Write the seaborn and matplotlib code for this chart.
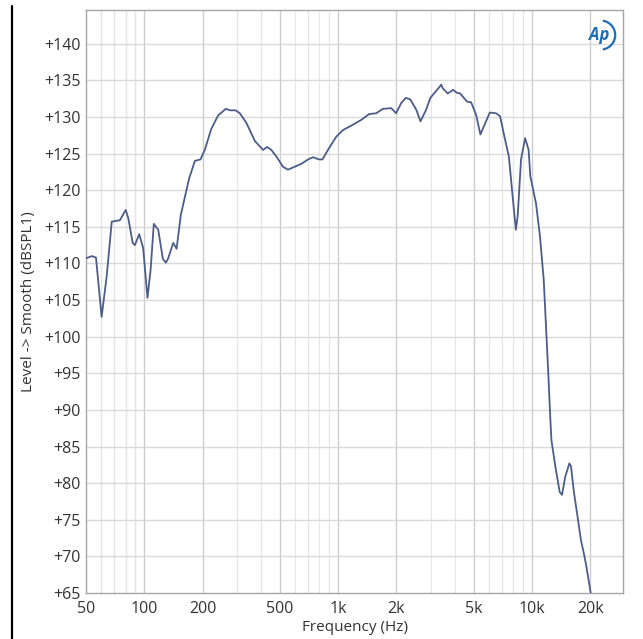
import numpy as np
import pandas as pd
import matplotlib
matplotlib.use("Agg")
import matplotlib.pyplot as plt
from matplotlib.lines import Line2D
from matplotlib.patches import Arc
from matplotlib.ticker import FixedLocator, NullFormatter
import seaborn as sns

# Smoothed SPL response of the driver
freq_hz = [
    50, 53.5, 56.3, 60.2, 63.9, 67.9, 74.8, 80.1, 82.6, 87.1, 89.4, 94.1, 98.6,
    103.8, 107.7, 111.9, 117.9, 124.7, 129.2, 132.8, 140.9, 146.7, 154.2, 165.2,
    170.3, 182.3, 194.9, 205.2, 221, 240.2, 263, 278, 296, 311, 336, 372, 410,
    430, 452, 480, 519, 551, 597, 646, 700, 741, 796, 830, 886, 978, 1058, 1185,
    1316, 1448, 1572, 1700, 1880, 1990, 2116, 2233, 2355, 2528, 2660, 2846, 2990,
    3407, 3466, 3678, 3916, 4093, 4262, 4620, 4854, 5150, 5420, 5752, 6060, 6530,
    6847, 7170, 7600, 7920, 8260, 8437, 8785, 9220, 9612, 9810, 10495, 11000,
    11500, 11820, 12140, 12430, 12600, 13200, 13900, 14290, 14860, 15600, 15900,
    16500, 17200, 17900, 18600, 19100, 20100, 20400,
]
level_db = [
    110.7, 111.0, 110.8, 102.7, 108.2, 115.7, 115.9, 117.3, 116.2, 112.8, 112.5,
    114.0, 112.1, 105.3, 109.1, 115.4, 114.6, 110.6, 110.1, 110.7, 112.8, 112.0,
    116.6, 120.1, 121.6, 124.0, 124.2, 125.5, 128.3, 130.2, 131.1, 130.9, 130.9,
    130.5, 129.2, 126.7, 125.5, 125.9, 125.5, 124.6, 123.2, 122.8, 123.2, 123.6,
    124.2, 124.5, 124.2, 124.2, 125.5, 127.3, 128.2, 128.9, 129.6, 130.4, 130.5,
    131.1, 131.2, 130.5, 131.9, 132.6, 132.4, 131.0, 129.4, 131.0, 132.6, 134.4,
    133.9, 133.2, 133.7, 133.3, 133.2, 132.1, 132.0, 130.3, 127.6, 129.2, 130.6,
    130.5, 130.1, 127.6, 124.6, 119.6, 114.6, 116.4, 124.2, 127.1, 125.5, 121.9,
    118.2, 113.7, 107.8, 101.4, 95.0, 89.0, 85.9, 82.3, 78.8, 78.4, 80.9, 82.7,
    82.3, 78.6, 75.4, 72.2, 70.2, 68.6, 65.0, 64.4,
]

x_ticks = [50, 100, 200, 500, 1000, 2000, 5000, 10000, 20000]
x_tick_labels = ["50", "100", "200", "500", "1k", "2k", "5k", "10k", "20k"]
y_ticks = list(range(65, 145, 5))
y_tick_labels = [f"+{v}" for v in y_ticks]

df = pd.DataFrame({"Frequency (Hz)": freq_hz, "Level": level_db})

sns.set_theme(style="white")
plt.rcParams["font.family"] = ["Open Sans", "DejaVu Sans"]

fig = plt.figure(figsize=(6.43, 6.39), dpi=100)
ax = fig.add_axes([86 / 643, 1 - 593 / 639, (623 - 86) / 643, (593 - 10) / 639])

# light minor grid at 3,4,6,7,8,9 of every decade, darker at labelled values
minor = []
for dec in [10, 100, 1000, 10000]:
    for m in [3, 4, 6, 7, 8, 9]:
        v = m * dec
        if 50 < v < 29500:
            minor.append(v)
minor += [60, 70, 80, 90]
for v in minor:
    ax.axvline(v, color="#e6e6e6", lw=0.9, zorder=0)
for v in x_ticks[1:]:
    ax.axvline(v, color="#cccccc", lw=1.0, zorder=0)
for v in y_ticks[1:]:
    ax.axhline(v, color="#d9d9d9", lw=1.0, zorder=0)

sns.lineplot(data=df, x="Frequency (Hz)", y="Level", ax=ax, sort=False,
             estimator=None, color="#4d5d8a", lw=1.3, zorder=3)

ax.set_xscale("log")
ax.set_xlim(50, 29500)
ax.set_ylim(65, 144.6)
ax.xaxis.set_major_locator(FixedLocator(x_ticks))
ax.set_xticklabels(x_tick_labels)
ax.xaxis.set_minor_formatter(NullFormatter())
ax.xaxis.set_minor_locator(FixedLocator([]))
ax.set_yticks(y_ticks)
ax.set_yticklabels(y_tick_labels)
ax.tick_params(axis="y", length=0, pad=4, labelsize=11.5, colors="#333333")
ax.tick_params(axis="x", length=0, pad=6, labelsize=11.5, colors="#333333")

ax.set_xlabel("Frequency (Hz)", fontsize=11, color="#333333", labelpad=2)
ax.set_ylabel("Level -> Smooth (dBSPL1)", fontsize=11, color="#333333", labelpad=6)

for s in ax.spines.values():
    s.set_color("#a6a6a6")
    s.set_linewidth(1.0)

# Ap badge in the top-right corner
ax.text(0.955, 0.957, "Ap", transform=ax.transAxes, fontsize=12,
        fontweight="bold", fontstyle="italic", color="#1f6db3",
        ha="center", va="center", zorder=5)
badge = Arc((0.958, 0.957), 0.055, 0.05, transform=ax.transAxes,
            theta1=-80, theta2=80, color="#1f6db3", lw=1.6, zorder=5)
ax.add_patch(badge)

# frame line at the left edge of the figure
fig.add_artist(Line2D([12 / 643, 12 / 643], [0, 1 - 6 / 639],
                      transform=fig.transFigure, color="black", lw=1.6))

fig.savefig("out.png", dpi=100, facecolor="white")
